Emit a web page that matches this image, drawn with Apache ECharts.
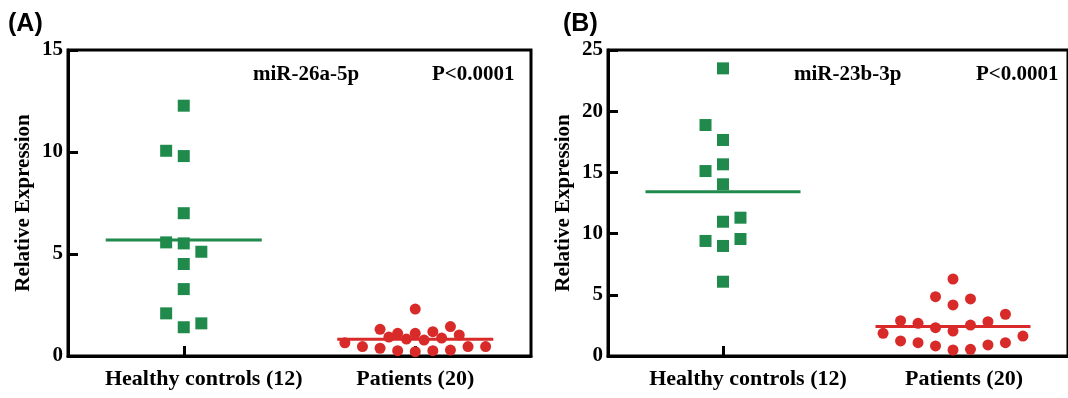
<!DOCTYPE html>
<html>
<head>
<meta charset="utf-8">
<script src="https://cdn.jsdelivr.net/npm/echarts@6/dist/echarts.min.js"></script>
<style>
  html, body { margin: 0; padding: 0; background: #fff; }
  #chart { width: 1068px; height: 398px; }
</style>
</head>
<body>
<div id="chart"></div>
<script>
// groups on the x axis
const categories = ['Healthy controls (12)', 'Patients (20)'];

// (A) miR-26a-5p
const healthyA = [12.27, 10.06, 9.8, 7.0, 5.57, 5.52, 5.11, 4.51, 3.28, 2.09, 1.41, 1.6];
const healthyASlot = [0, -2, 0, 0, -2, 0, 2, 0, 0, -2, 0, 2];
const patientsA = [2.3, 1.31, 1.11, 1.11, 1.19, 1.44, 0.93, 0.83, 0.78, 0.88, 1.03,
  0.65, 0.46, 0.38, 0.26, 0.21, 0.26, 0.29, 0.46, 0.46];
const patientsASlot = [0, -4, -2, 0, 2, 4, -3, -1, 1, 3, 5, -8, -6, -4, -2, 0, 2, 4, 6, 8];

// (B) miR-23b-3p
const healthyB = [23.5, 18.87, 17.65, 15.66, 15.11, 14.03, 10.97, 11.3, 9.4, 8.99, 9.56, 6.07];
const healthyBSlot = [0, -2, 0, 0, -2, 0, 0, 2, -2, 0, 2, 0];
const patientsB = [6.29, 4.85, 4.66, 4.17, 2.89, 2.67, 2.31, 2.04, 2.53, 2.8, 3.41, 1.85,
  1.23, 1.09, 0.82, 0.49, 0.55, 0.9, 1.09, 1.63];
const patientsBSlot = [0, -2, 2, 0, -6, -4, -2, 0, 2, 4, 6, -8, -6, -4, -2, 0, 2, 4, 6, 8];

const yTicksA = [0, 15, 5];
const yTicksB = [0, 25, 5];

const GREEN = '#1f8a4c';
const RED = '#d92a2a';
const SERIF = "'Times New Roman', 'Liberation Serif', serif";
const JIT = 0.038;   // horizontal step of the swarm, in group units
const HALF = 0.337;  // half width of the mean bar

const mean = (arr) => arr.reduce((a, b) => a + b, 0) / arr.length;
const swarm = (vals, slots, group) => vals.map((v, i) => [group + 0.5 + slots[i] * JIT, v]);
const meanBar = (vals, group) => {
  const m = mean(vals);
  return [[group + 0.5 - HALF, m], [group + 0.5 + HALF, m]];
};

// label of the first group sits a bit right of its tick in the original
function catAxis(gridIndex, shift) {
  return {
    type: 'category', gridIndex, boundaryGap: true,
    data: categories.map((c, i) => ({
      value: c,
      textStyle: { padding: [0, 0, 0, shift[i]] },
    })),
    axisLine: { onZero: false, lineStyle: { color: '#000', width: 3 } },
    axisTick: { show: true, alignWithLabel: true, inside: true, interval: 0, length: 10,
      lineStyle: { color: '#000', width: 3 } },
    axisLabel: { interval: 0, color: '#000', fontFamily: SERIF, fontWeight: 'bold', fontSize: 22, margin: 12 },
  };
}
function valXAxis(gridIndex) {
  return { type: 'value', gridIndex, min: 0, max: 2, show: false };
}
function yAxis(gridIndex, ticks) {
  return {
    type: 'value', gridIndex, min: ticks[0], max: ticks[1], interval: ticks[2],
    position: 'left',
    name: 'Relative Expression', nameLocation: 'middle', nameRotate: 90, nameGap: 34,
    nameTextStyle: { color: '#000', fontFamily: SERIF, fontWeight: 'bold', fontSize: 21 },
    axisLine: { show: true, onZero: false, lineStyle: { color: '#000', width: 3 } },
    axisTick: { show: true, inside: true, length: 10, lineStyle: { color: '#000', width: 3 } },
    axisLabel: { color: '#000', fontFamily: SERIF, fontWeight: 'bold', fontSize: 21, margin: 5 },
    splitLine: { show: false },
  };
}
function dots(data, xi, yi, symbol, size, color) {
  return { type: 'scatter', xAxisIndex: xi, yAxisIndex: yi, data, symbol, symbolSize: size,
    itemStyle: { color, opacity: 1 }, z: 3 };
}
function bar(data, xi, yi, color) {
  return { type: 'line', xAxisIndex: xi, yAxisIndex: yi, data, symbol: 'none',
    lineStyle: { color, width: 3 }, z: 2 };
}
function label(text, x, y, font) {
  return { type: 'text', x, y, style: { text, font, fill: '#000', textVerticalAlign: 'middle' } };
}

const myChart = echarts.init(document.getElementById('chart'));
const option = {
  animation: false,
  grid: [
    { left: 68, top: 50, width: 463, height: 306, show: true, borderColor: '#000', borderWidth: 3 },
    { left: 608, top: 50, width: 463, height: 306, show: true, borderColor: '#000', borderWidth: 3 },
  ],
  xAxis: [catAxis(0, [40, 0]), valXAxis(0), catAxis(1, [50, 22]), valXAxis(1)],
  yAxis: [yAxis(0, yTicksA), yAxis(1, yTicksB)],
  series: [
    bar(meanBar(healthyA, 0), 1, 0, GREEN),
    bar(meanBar(patientsA, 1), 1, 0, RED),
    dots(swarm(healthyA, healthyASlot, 0), 1, 0, 'rect', 12, GREEN),
    dots(swarm(patientsA, patientsASlot, 1), 1, 0, 'circle', 11, RED),
    bar(meanBar(healthyB, 0), 3, 1, GREEN),
    bar(meanBar(patientsB, 1), 3, 1, RED),
    dots(swarm(healthyB, healthyBSlot, 0), 3, 1, 'rect', 12, GREEN),
    dots(swarm(patientsB, patientsBSlot, 1), 3, 1, 'circle', 11, RED),
  ],
  graphic: [
    label('(A)', 8, 24, "bold 25px 'Liberation Sans', Arial, sans-serif"),
    label('(B)', 563, 24, "bold 25px 'Liberation Sans', Arial, sans-serif"),
    label('miR-26a-5p', 253, 75, 'bold 21px ' + SERIF),
    label('P<0.0001', 432, 75, 'bold 21px ' + SERIF),
    label('miR-23b-3p', 794, 75, 'bold 21px ' + SERIF),
    label('P<0.0001', 976, 75, 'bold 21px ' + SERIF),
  ],
};
myChart.setOption(option);
</script>
</body>
</html>
